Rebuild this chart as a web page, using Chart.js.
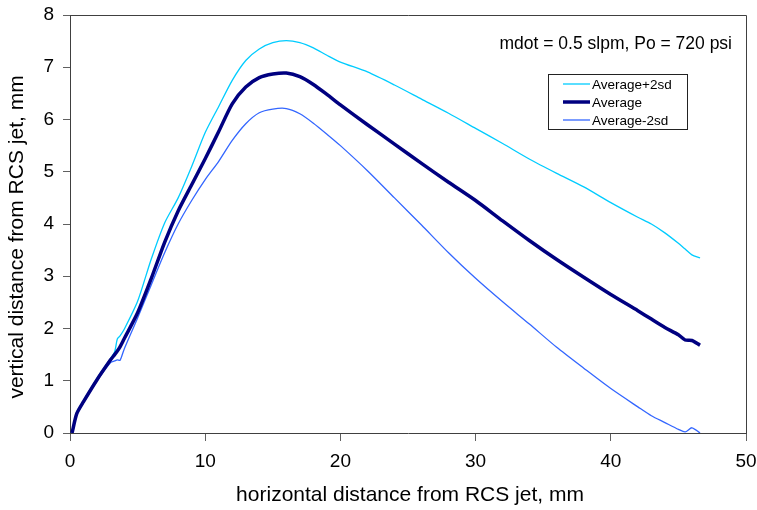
<!DOCTYPE html>
<html>
<head>
<meta charset="utf-8">
<script src="https://cdn.jsdelivr.net/npm/chart.js@4/dist/chart.umd.min.js"></script>
<style>
    html, body { margin: 0; padding: 0; background: #ffffff; }
    #wrap { width: 757px; height: 510px; position: relative; }
</style>
</head>
<body>
<div id="wrap"><canvas id="profileChart"></canvas></div>
<script>
// horizontal distance (mm), shared by all three curves
const xDist = [0.15, 0.5, 1, 2, 3, 3.3, 3.5, 3.7, 4, 5, 6, 7, 8, 9, 10, 11, 12, 13, 14, 15, 16, 17, 18, 19, 20,
    22, 24, 26, 28, 30, 32, 34, 36, 38, 40, 42, 43, 44, 45, 45.5, 46, 46.6];

const avgPlus2sd = [0, 0.4, 0.62, 1.05, 1.43, 1.55, 1.8, 1.86, 1.98, 2.52, 3.32, 4.02, 4.5, 5.1, 5.75, 6.25, 6.75, 7.13, 7.35, 7.47, 7.51, 7.47, 7.37, 7.23, 7.1,
    6.91, 6.66, 6.39, 6.12, 5.83, 5.54, 5.24, 4.97, 4.71, 4.41, 4.13, 4.0, 3.83, 3.63, 3.52, 3.41, 3.35];

const average = [0, 0.37, 0.6, 1.02, 1.4, 1.5, 1.57, 1.65, 1.8, 2.3, 2.95, 3.65, 4.25, 4.75, 5.25, 5.77, 6.3, 6.62, 6.8, 6.87, 6.89, 6.82, 6.67, 6.48, 6.28,
    5.9, 5.53, 5.16, 4.8, 4.45, 4.06, 3.68, 3.32, 2.98, 2.65, 2.34, 2.18, 2.02, 1.88, 1.78, 1.77, 1.68];

const avgMinus2sd = [0, 0.35, 0.58, 1.0, 1.35, 1.38, 1.4, 1.39, 1.6, 2.2, 2.83, 3.45, 4.0, 4.45, 4.85, 5.2, 5.6, 5.92, 6.13, 6.2, 6.21, 6.11, 5.93, 5.72, 5.5,
    5.02, 4.5, 3.98, 3.45, 2.96, 2.51, 2.08, 1.64, 1.24, 0.85, 0.5, 0.33, 0.2, 0.07, 0.02, 0.1, 0];

const seriesNames = ["Average+2sd", "Average", "Average-2sd"];
const seriesColors = ["#00CCFF", "#000080", "#3366FF"];
const seriesWidths = [1.3, 3.5, 1.3];

const xTitle = "horizontal distance from RCS jet, mm";
const yTitle = "vertical distance from RCS jet, mm";
const noteText = "mdot = 0.5 slpm, Po = 720 psi";

const FONT = "'Liberation Sans', Arial, sans-serif";

function toPoints(ys) {
    return xDist.map((x, i) => ({ x, y: ys[i] }));
}

const decorPlugin = {
    id: "decor",
    afterDraw(chart) {
        const { ctx, chartArea: a } = chart;
        ctx.save();

        // top and right frame lines
        ctx.strokeStyle = "#404040";
        ctx.lineWidth = 1;
        ctx.beginPath();
        ctx.moveTo(a.left, a.top + 0.5);
        ctx.lineTo(a.right + 0.5, a.top + 0.5);
        ctx.lineTo(a.right + 0.5, a.bottom);
        ctx.stroke();

        // axis titles
        ctx.fillStyle = "#000";
        ctx.font = `21px ${FONT}`;
        ctx.textAlign = "center";
        ctx.textBaseline = "middle";
        ctx.fillText(xTitle, 410, 495);
        ctx.save();
        ctx.translate(17, 237);
        ctx.rotate(-Math.PI / 2);
        ctx.fillText(yTitle, 0, 0);
        ctx.restore();

        // note
        ctx.font = `17.5px ${FONT}`;
        ctx.textAlign = "right";
        ctx.fillText(noteText, 732, 44);

        // legend box
        const box = { x: 548.5, y: 74.5, w: 139, h: 55 };
        ctx.fillStyle = "#fff";
        ctx.fillRect(box.x, box.y, box.w, box.h);
        ctx.strokeStyle = "#222";
        ctx.strokeRect(box.x, box.y, box.w, box.h);
        ctx.font = `13.5px ${FONT}`;
        ctx.textAlign = "left";
        ctx.textBaseline = "middle";
        const rowsY = [84, 102, 120];
        seriesNames.forEach((name, i) => {
            ctx.strokeStyle = seriesColors[i];
            ctx.lineWidth = seriesWidths[i];
            ctx.beginPath();
            ctx.moveTo(563, rowsY[i]);
            ctx.lineTo(590, rowsY[i]);
            ctx.stroke();
            ctx.fillStyle = "#000";
            ctx.fillText(name, 592, rowsY[i] + 1);
        });

        ctx.restore();
    }
};

new Chart(document.getElementById("profileChart"), {
    type: "scatter",
    data: {
        datasets: [avgPlus2sd, average, avgMinus2sd].map((ys, i) => ({
            label: seriesNames[i],
            data: toPoints(ys),
            showLine: true,
            borderColor: seriesColors[i],
            backgroundColor: seriesColors[i],
            borderWidth: seriesWidths[i],
            pointRadius: 0,
            tension: 0.25,
            order: i === 1 ? 0 : 1
        }))
    },
    options: {
        responsive: true,
        maintainAspectRatio: false,
        animation: false,
        layout: { padding: { top: 15, right: 11, left: 0, bottom: 0 } },
        plugins: {
            legend: { display: false },
            tooltip: { enabled: false }
        },
        scales: {
            x: {
                type: "linear",
                min: 0,
                max: 50,
                afterFit: (s) => { s.height = 77; s.paddingLeft = 0; s.paddingRight = 0; },
                ticks: { stepSize: 10, color: "#000", font: { size: 19, family: FONT }, padding: 9, maxRotation: 0 },
                grid: { drawOnChartArea: false, tickLength: 8, color: "#606060", tickColor: "#606060" },
                border: { color: "#404040", width: 1 }
            },
            y: {
                type: "linear",
                min: 0,
                max: 8,
                afterFit: (s) => { s.width = 70; s.paddingTop = 0; s.paddingBottom = 0; },
                ticks: { stepSize: 1, color: "#000", font: { size: 19, family: FONT }, padding: 9 },
                grid: { drawOnChartArea: false, tickLength: 7, color: "#606060", tickColor: "#606060" },
                border: { color: "#404040", width: 1 }
            }
        }
    },
    plugins: [decorPlugin]
});
</script>
</body>
</html>
